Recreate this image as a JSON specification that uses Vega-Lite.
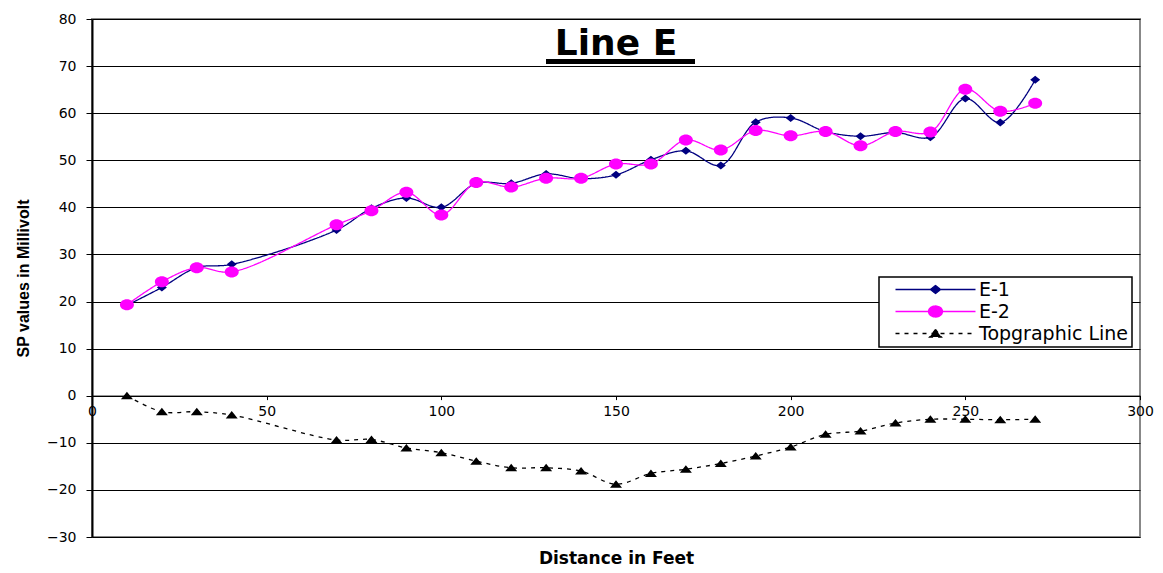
{
  "$schema": "https://vega.github.io/schema/vega-lite/v6.json",
  "width": 1048,
  "height": 518,
  "autosize": {"type": "none"},
  "padding": {"left": 92, "top": 19, "right": 23, "bottom": 36},
  "background": "white",
  "title": {
    "text": "Line E",
    "font": "DejaVu Sans",
    "fontSize": 36,
    "fontWeight": "bold",
    "color": "#000000",
    "offset": -51,
    "anchor": "middle"
  },
  "data": {
    "values": [
      {"x": 10, "series": "E-1", "v": 19.2},
      {"x": 20, "series": "E-1", "v": 23.0},
      {"x": 30, "series": "E-1", "v": 27.2},
      {"x": 40, "series": "E-1", "v": 27.9},
      {"x": 70, "series": "E-1", "v": 35.2},
      {"x": 80, "series": "E-1", "v": 39.8},
      {"x": 90, "series": "E-1", "v": 42.0},
      {"x": 100, "series": "E-1", "v": 40.0},
      {"x": 110, "series": "E-1", "v": 45.1},
      {"x": 120, "series": "E-1", "v": 45.1},
      {"x": 130, "series": "E-1", "v": 47.1},
      {"x": 140, "series": "E-1", "v": 46.1},
      {"x": 150, "series": "E-1", "v": 46.9},
      {"x": 160, "series": "E-1", "v": 50.1},
      {"x": 170, "series": "E-1", "v": 52.0},
      {"x": 180, "series": "E-1", "v": 48.9},
      {"x": 190, "series": "E-1", "v": 58.1},
      {"x": 200, "series": "E-1", "v": 59.0},
      {"x": 210, "series": "E-1", "v": 56.1},
      {"x": 220, "series": "E-1", "v": 55.1},
      {"x": 230, "series": "E-1", "v": 55.9},
      {"x": 240, "series": "E-1", "v": 54.9},
      {"x": 250, "series": "E-1", "v": 63.1},
      {"x": 260, "series": "E-1", "v": 58.0},
      {"x": 270, "series": "E-1", "v": 67.1},
      {"x": 10, "series": "E-2", "v": 19.3},
      {"x": 20, "series": "E-2", "v": 24.2},
      {"x": 30, "series": "E-2", "v": 27.2},
      {"x": 40, "series": "E-2", "v": 26.3},
      {"x": 70, "series": "E-2", "v": 36.3},
      {"x": 80, "series": "E-2", "v": 39.3},
      {"x": 90, "series": "E-2", "v": 43.2},
      {"x": 100, "series": "E-2", "v": 38.4},
      {"x": 110, "series": "E-2", "v": 45.3},
      {"x": 120, "series": "E-2", "v": 44.3},
      {"x": 130, "series": "E-2", "v": 46.2},
      {"x": 140, "series": "E-2", "v": 46.2},
      {"x": 150, "series": "E-2", "v": 49.2},
      {"x": 160, "series": "E-2", "v": 49.2},
      {"x": 170, "series": "E-2", "v": 54.3},
      {"x": 180, "series": "E-2", "v": 52.2},
      {"x": 190, "series": "E-2", "v": 56.3},
      {"x": 200, "series": "E-2", "v": 55.2},
      {"x": 210, "series": "E-2", "v": 56.1},
      {"x": 220, "series": "E-2", "v": 53.1},
      {"x": 230, "series": "E-2", "v": 56.1},
      {"x": 240, "series": "E-2", "v": 56.0},
      {"x": 250, "series": "E-2", "v": 65.1},
      {"x": 260, "series": "E-2", "v": 60.4},
      {"x": 270, "series": "E-2", "v": 62.1},
      {"x": 10, "series": "Topgraphic Line", "v": 0.0},
      {"x": 20, "series": "Topgraphic Line", "v": -3.4},
      {"x": 30, "series": "Topgraphic Line", "v": -3.4},
      {"x": 40, "series": "Topgraphic Line", "v": -4.1},
      {"x": 70, "series": "Topgraphic Line", "v": -9.4},
      {"x": 80, "series": "Topgraphic Line", "v": -9.3},
      {"x": 90, "series": "Topgraphic Line", "v": -11.1},
      {"x": 100, "series": "Topgraphic Line", "v": -12.1},
      {"x": 110, "series": "Topgraphic Line", "v": -13.9},
      {"x": 120, "series": "Topgraphic Line", "v": -15.3},
      {"x": 130, "series": "Topgraphic Line", "v": -15.3},
      {"x": 140, "series": "Topgraphic Line", "v": -16.0},
      {"x": 150, "series": "Topgraphic Line", "v": -18.8},
      {"x": 160, "series": "Topgraphic Line", "v": -16.5},
      {"x": 170, "series": "Topgraphic Line", "v": -15.6},
      {"x": 180, "series": "Topgraphic Line", "v": -14.4},
      {"x": 190, "series": "Topgraphic Line", "v": -12.8},
      {"x": 200, "series": "Topgraphic Line", "v": -10.9},
      {"x": 210, "series": "Topgraphic Line", "v": -8.2},
      {"x": 220, "series": "Topgraphic Line", "v": -7.5},
      {"x": 230, "series": "Topgraphic Line", "v": -5.8},
      {"x": 240, "series": "Topgraphic Line", "v": -5.0},
      {"x": 250, "series": "Topgraphic Line", "v": -5.0},
      {"x": 260, "series": "Topgraphic Line", "v": -5.1},
      {"x": 270, "series": "Topgraphic Line", "v": -5.0}
    ]
  },
  "encoding": {
    "x": {
      "field": "x",
      "type": "quantitative",
      "scale": {"domain": [0, 300], "nice": false, "zero": false},
      "axis": {
        "values": [0, 50, 100, 150, 200, 250, 300],
        "grid": false,
        "offset": -141.4,
        "domainColor": "#000000",
        "domainWidth": 1,
        "tickColor": "#000000",
        "tickSize": 4,
        "labelFlush": false,
        "labelFont": "DejaVu Sans",
        "labelFontSize": 14,
        "labelColor": "#000000",
        "labelPadding": 5,
        "title": "Distance in Feet",
        "titleFont": "DejaVu Sans",
        "titleFontSize": 17,
        "titleFontWeight": "bold",
        "titleColor": "#000000",
        "titleY": 155
      }
    },
    "y": {
      "field": "v",
      "type": "quantitative",
      "scale": {"domain": [-30, 80], "nice": false, "zero": false},
      "axis": {
        "values": [-30, -20, -10, 0, 10, 20, 30, 40, 50, 60, 70, 80],
        "grid": true,
        "gridColor": "#000000",
        "gridWidth": 1,
        "domainColor": "#000000",
        "domainWidth": 2,
        "tickColor": "#000000",
        "tickSize": 6,
        "labelFlush": false,
        "labelFont": "DejaVu Sans",
        "labelFontSize": 14,
        "labelColor": "#000000",
        "labelPadding": 10,
        "title": "SP values in Millivolt",
        "titleFont": "Liberation Sans",
        "titleFontSize": 16,
        "titleFontWeight": "bold",
        "titleColor": "#000000",
        "titleX": -64,
        "titleBaseline": "alphabetic"
      }
    }
  },
  "layer": [
    {
      "mark": {"type": "line", "interpolate": "catmull-rom", "strokeWidth": 1.3},
      "encoding": {
        "detail": {"field": "series", "type": "nominal"},
        "color": {
          "condition": [
            {"test": "datum.series === 'E-1'", "value": "#000080"},
            {"test": "datum.series === 'E-2'", "value": "#FF00FF"}
          ],
          "value": "#000000"
        },
        "strokeDash": {
          "condition": {"test": "datum.series === 'Topgraphic Line'", "value": [4, 5]},
          "value": [1, 0]
        }
      }
    },
    {
      "mark": {"type": "point", "filled": true, "opacity": 1, "size": 100},
      "encoding": {
        "color": {
          "field": "series",
          "type": "nominal",
          "scale": {"domain": ["E-1", "E-2", "Topgraphic Line"], "range": ["#000080", "#FF00FF", "#000000"]},
          "legend": {
            "title": null,
            "orient": "none",
            "legendX": 787,
            "legendY": 258,
            "padding": 3,
            "fillColor": "#ffffff",
            "strokeColor": "#000000",
            "symbolSize": 100,
            "symbolOffset": 44,
            "labelOffset": 34,
            "labelFont": "DejaVu Sans",
            "labelFontSize": 19,
            "labelColor": "#000000",
            "rowPadding": 2,
            "symbolOpacity": 1,
            "encode": {
              "legend": {"update": {"strokeWidth": {"value": 1.5}}},
              "symbols": {
                "update": {
                  "stroke": {"scale": "color", "field": "value"},
                  "strokeWidth": {"value": 1.3},
                  "strokeDash": {"signal": "datum.value === 'Topgraphic Line' ? [4, 5] : [1, 0]"}
                }
              }
            }
          }
        },
        "shape": {
          "field": "series",
          "type": "nominal",
          "scale": {
            "domain": ["E-1", "E-2", "Topgraphic Line"],
            "range": [
              "M-8,0H8M-1,0L0,-0.8L1,0L0,0.8Z",
              "M-8,0H8M-1.4,0C-1.4,-0.6075,-0.773,-1.1,0,-1.1C0.773,-1.1,1.4,-0.6075,1.4,0C1.4,0.6075,0.773,1.1,0,1.1C-0.773,1.1,-1.4,0.6075,-1.4,0Z",
              "M-8,0H8M0,-0.8L1.2,0.7L-1.2,0.7Z"
            ]
          },
          "legend": {
            "title": null,
            "orient": "none",
            "legendX": 787,
            "legendY": 258
          }
        }
      }
    },
    {
      "mark": {"type": "rule", "color": "#000000", "strokeWidth": 4},
      "encoding": {
        "x": {"datum": 130, "type": "quantitative"},
        "x2": {"datum": 172.4},
        "y": {"datum": 71.0, "type": "quantitative"}
      }
    }
  ],
  "config": {
    "view": {"stroke": "#888888", "strokeWidth": 2}
  }
}
